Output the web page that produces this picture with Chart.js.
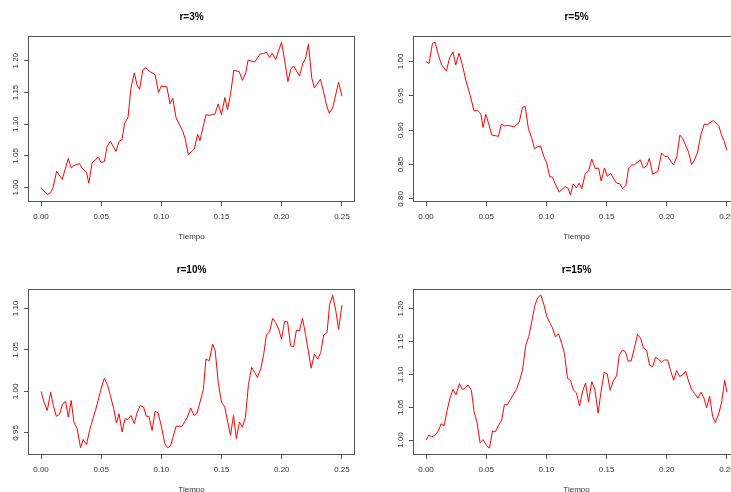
<!DOCTYPE html>
<html><head><meta charset="utf-8">
<script src="https://cdn.jsdelivr.net/npm/chart.js@4/dist/chart.umd.min.js"></script>
<style>
html,body{margin:0;padding:0;background:#fff;overflow:hidden;width:731px;height:492px;}
#wrap{position:relative;width:731px;height:492px;overflow:hidden;background:#fff;}
.p{position:absolute;width:385px;height:253px;}
.p canvas{display:block;}
</style></head><body>
<div id="wrap">
<div class="p" style="left:0;top:0"><canvas id="c1" width="385" height="253"></canvas></div>
<div class="p" style="left:385px;top:0"><canvas id="c2" width="385" height="253"></canvas></div>
<div class="p" style="left:0;top:253px"><canvas id="c3" width="385" height="253"></canvas></div>
<div class="p" style="left:385px;top:253px"><canvas id="c4" width="385" height="253"></canvas></div>
</div>
<script>
// ---- data ----
const titles = ['r=3%', 'r=5%', 'r=10%', 'r=15%'];
const xLabel = 'Tiempo';
const xTicks = [0, 0.05, 0.10, 0.15, 0.20, 0.25];
const yTicks3 = [1.00, 1.05, 1.10, 1.15, 1.20];
const yTicks5 = [0.80, 0.85, 0.90, 0.95, 1.00];
const yTicks10 = [0.95, 1.00, 1.05, 1.10];
const yTicks15 = [1.00, 1.05, 1.10, 1.15, 1.20];

const time3 = [
 0, 0.0052, 0.008, 0.0099, 0.013, 0.0176, 0.0226, 0.0251, 0.0273, 0.032,
 0.034, 0.0378, 0.0397, 0.0424, 0.0474, 0.0499, 0.0526, 0.0549, 0.0576, 0.0623,
 0.0648, 0.0673, 0.0695, 0.0722, 0.0747, 0.0775, 0.0797, 0.0819, 0.0846, 0.0871,
 0.0896, 0.0948, 0.0976, 0.0998, 0.1045, 0.1072, 0.1094, 0.1122, 0.1177, 0.1199,
 0.1224, 0.1273, 0.1301, 0.1320, 0.1370, 0.1397, 0.1444, 0.1472, 0.1499, 0.1527,
 0.1549, 0.1574, 0.1601, 0.1646, 0.1673, 0.1701, 0.1720, 0.1775, 0.1822, 0.1849,
 0.1871, 0.1899, 0.1921, 0.1949, 0.1998, 0.2023, 0.2051, 0.2073, 0.2098, 0.2147,
 0.2175, 0.2197, 0.2221, 0.2249, 0.2271, 0.2321, 0.2346, 0.2373, 0.2395, 0.2423,
 0.2472, 0.2500];
const value3 = [
 1.000, 0.989, 0.992, 1.000, 1.026, 1.013, 1.046, 1.031, 1.035, 1.038,
 1.031, 1.024, 1.007, 1.039, 1.048, 1.040, 1.041, 1.065, 1.073, 1.057,
 1.073, 1.076, 1.102, 1.110, 1.157, 1.181, 1.162, 1.155, 1.186, 1.189,
 1.184, 1.178, 1.150, 1.160, 1.159, 1.132, 1.141, 1.110, 1.089, 1.076,
 1.052, 1.061, 1.084, 1.074, 1.115, 1.114, 1.116, 1.132, 1.115, 1.142,
 1.123, 1.147, 1.185, 1.183, 1.169, 1.181, 1.201, 1.198, 1.211, 1.211,
 1.214, 1.205, 1.212, 1.202, 1.229, 1.202, 1.167, 1.186, 1.192, 1.176,
 1.196, 1.203, 1.226, 1.173, 1.157, 1.171, 1.152, 1.129, 1.117, 1.126,
 1.166, 1.144];

const time5 = [
 0, 0.0025, 0.0053, 0.0075, 0.0103, 0.0130, 0.0169, 0.0197, 0.0224, 0.0247,
 0.0274, 0.0302, 0.0330, 0.0366, 0.0399, 0.0427, 0.0455, 0.0474, 0.0496, 0.0518,
 0.0546, 0.0601, 0.0626, 0.0654, 0.0682, 0.0732, 0.0773, 0.0801, 0.0823, 0.0851,
 0.0879, 0.0901, 0.0926, 0.0951, 0.0978, 0.1003, 0.1028, 0.1050, 0.1078, 0.1106,
 0.1156, 0.1178, 0.1200, 0.1222, 0.1250, 0.1272, 0.1294, 0.1322, 0.1350, 0.1377,
 0.1405, 0.1433, 0.1455, 0.1483, 0.1505, 0.1533, 0.1583, 0.1611, 0.1633, 0.1661,
 0.1683, 0.1708, 0.1733, 0.1780, 0.1805, 0.1833, 0.1855, 0.1883, 0.1926, 0.1957,
 0.1982, 0.2007, 0.2043, 0.2059, 0.2084, 0.2109, 0.2131, 0.2159, 0.2181, 0.2206,
 0.2228, 0.2256, 0.2284, 0.2312, 0.2336, 0.2386, 0.2431, 0.2453, 0.2478, 0.2500];
const value5 = [
 1.000, 0.997, 1.026, 1.028, 1.009, 0.995, 0.986, 1.006, 1.014, 0.995,
 1.012, 0.995, 0.973, 0.951, 0.928, 0.929, 0.924, 0.904, 0.923, 0.911,
 0.893, 0.891, 0.909, 0.906, 0.907, 0.905, 0.911, 0.933, 0.935, 0.902,
 0.888, 0.873, 0.876, 0.877, 0.862, 0.852, 0.832, 0.832, 0.820, 0.810,
 0.818, 0.816, 0.806, 0.822, 0.816, 0.823, 0.815, 0.836, 0.841, 0.858,
 0.844, 0.845, 0.826, 0.845, 0.833, 0.837, 0.823, 0.822, 0.815, 0.820,
 0.845, 0.849, 0.850, 0.857, 0.845, 0.848, 0.859, 0.836, 0.840, 0.867,
 0.862, 0.862, 0.852, 0.850, 0.862, 0.893, 0.888, 0.877, 0.868, 0.850,
 0.856, 0.868, 0.894, 0.909, 0.908, 0.914, 0.907, 0.894, 0.883, 0.871];

const time10 = [
 0, 0.0025, 0.0052, 0.0080, 0.0102, 0.0127, 0.0152, 0.0179, 0.0204, 0.0226,
 0.0251, 0.0273, 0.0300, 0.0328, 0.0350, 0.0378, 0.0405, 0.0452, 0.0499, 0.0526,
 0.0554, 0.0576, 0.0604, 0.0626, 0.0648, 0.0673, 0.0697, 0.0722, 0.0747, 0.0775,
 0.0797, 0.0824, 0.0852, 0.0874, 0.0896, 0.0923, 0.0948, 0.0973, 0.1001, 0.1028,
 0.1053, 0.1078, 0.1122, 0.1171, 0.1216, 0.1243, 0.1271, 0.1295, 0.1348, 0.1370,
 0.1397, 0.1425, 0.1447, 0.1472, 0.1499, 0.1527, 0.1549, 0.1574, 0.1599, 0.1623,
 0.1648, 0.1673, 0.1698, 0.1723, 0.1750, 0.1775, 0.1797, 0.1825, 0.1850, 0.1872,
 0.1899, 0.1924, 0.1949, 0.1974, 0.1998, 0.2023, 0.2048, 0.2073, 0.2098, 0.2122,
 0.2147, 0.2172, 0.2197, 0.2244, 0.2271, 0.2299, 0.2324, 0.2348, 0.2376, 0.2398,
 0.2423, 0.2448, 0.2472, 0.2500];
const value10 = [
 1.000, 0.987, 0.977, 0.999, 0.983, 0.970, 0.972, 0.985, 0.988, 0.969,
 0.989, 0.963, 0.955, 0.932, 0.942, 0.936, 0.954, 0.977, 1.003, 1.016,
 1.007, 0.995, 0.979, 0.962, 0.973, 0.951, 0.967, 0.966, 0.971, 0.961,
 0.974, 0.983, 0.981, 0.970, 0.970, 0.953, 0.976, 0.974, 0.957, 0.937,
 0.932, 0.935, 0.958, 0.958, 0.969, 0.980, 0.971, 0.973, 1.002, 1.039,
 1.037, 1.057, 1.049, 1.011, 0.987, 0.981, 0.964, 0.947, 0.971, 0.943,
 0.963, 0.957, 0.969, 1.008, 1.029, 1.023, 1.017, 1.027, 1.045, 1.068,
 1.072, 1.088, 1.083, 1.075, 1.063, 1.084, 1.084, 1.055, 1.054, 1.074,
 1.073, 1.088, 1.069, 1.028, 1.045, 1.039, 1.047, 1.068, 1.071, 1.105,
 1.116, 1.098, 1.075, 1.104];

const time15 = [
 0, 0.0025, 0.0047, 0.0072, 0.0103, 0.0125, 0.0150, 0.0177, 0.0200, 0.0224,
 0.0249, 0.0277, 0.0302, 0.0324, 0.0349, 0.0377, 0.0399, 0.0424, 0.0449, 0.0474,
 0.0502, 0.0527, 0.0552, 0.0576, 0.0601, 0.0629, 0.0651, 0.0676, 0.0701, 0.0729,
 0.0751, 0.0776, 0.0801, 0.0829, 0.0854, 0.0879, 0.0904, 0.0929, 0.0953, 0.0978,
 0.1003, 0.1028, 0.1050, 0.1075, 0.1100, 0.1128, 0.1150, 0.1175, 0.1200, 0.1225,
 0.1250, 0.1275, 0.1303, 0.1325, 0.1350, 0.1377, 0.1402, 0.1430, 0.1452, 0.1480,
 0.1505, 0.1530, 0.1555, 0.1583, 0.1605, 0.1630, 0.1655, 0.1680, 0.1705, 0.1729,
 0.1757, 0.1782, 0.1807, 0.1832, 0.1857, 0.1882, 0.1907, 0.1932, 0.1957, 0.1982,
 0.2007, 0.2032, 0.2057, 0.2082, 0.2107, 0.2131, 0.2156, 0.2181, 0.2206, 0.2231,
 0.2259, 0.2284, 0.2309, 0.2331, 0.2356, 0.2381, 0.2403, 0.2431, 0.2456, 0.2481,
 0.2500];
const value15 = [
 1.000, 1.008, 1.005, 1.007, 1.014, 1.025, 1.022, 1.047, 1.065, 1.077,
 1.069, 1.086, 1.077, 1.079, 1.084, 1.076, 1.043, 1.027, 0.996, 1.001,
 0.992, 0.988, 1.014, 1.013, 1.022, 1.031, 1.054, 1.054, 1.062, 1.071,
 1.077, 1.090, 1.106, 1.145, 1.158, 1.181, 1.205, 1.217, 1.221, 1.207,
 1.188, 1.179, 1.171, 1.157, 1.162, 1.147, 1.132, 1.094, 1.091, 1.076,
 1.072, 1.052, 1.076, 1.087, 1.058, 1.089, 1.078, 1.041, 1.072, 1.103,
 1.101, 1.076, 1.090, 1.098, 1.129, 1.137, 1.135, 1.120, 1.121, 1.139,
 1.161, 1.155, 1.140, 1.137, 1.114, 1.112, 1.126, 1.123, 1.119, 1.122,
 1.122, 1.106, 1.091, 1.106, 1.097, 1.099, 1.105, 1.090, 1.077, 1.071,
 1.064, 1.073, 1.064, 1.049, 1.067, 1.036, 1.027, 1.040, 1.058, 1.091,
 1.073];

// axis extents (R adds 4% around data)
const xRange = [-0.01, 0.26];
const yRange3 = [0.979, 1.239];
const yRange5 = [0.797, 1.037];
const yRange10 = [0.9245, 1.1235];
const yRange15 = [0.979, 1.230];

// ---- rendering ----
const FONT = "'Liberation Sans', Arial, sans-serif";
const AXIS = '#555';
const TXT = '#333';

const boxPlugin = {
  id: 'rbox',
  afterDraw(chart) {
    const {ctx, chartArea: a} = chart;
    ctx.save();
    ctx.strokeStyle = AXIS;
    ctx.lineWidth = 1;
    ctx.strokeRect(Math.round(a.left) - 0.5, Math.round(a.top) + 0.5,
                   Math.round(a.right - a.left) + 1, Math.round(a.bottom - a.top));
    ctx.restore();
  }
};

function makeChart(id, title, t, v, yRange, yTicks) {
  const pts = t.map((x, i) => ({x: x, y: v[i]}));
  return new Chart(document.getElementById(id), {
    type: 'scatter',
    data: {datasets: [{data: pts, showLine: true, borderColor: '#ff0000', borderWidth: 1,
                       pointRadius: 0, pointHoverRadius: 0, fill: false, tension: 0}]},
    options: {
      responsive: false, animation: false, devicePixelRatio: 1,
      events: [],
      layout: {padding: {left: 0, right: 31, top: 0, bottom: 0}},
      plugins: {
        legend: {display: false},
        tooltip: {enabled: false},
        title: {display: true, text: title, fullSize: false, color: '#000',
                font: {family: FONT, size: 10, weight: 'bold', lineHeight: 1.2},
                padding: {top: 11, bottom: 13}}
      },
      scales: {
        x: {
          type: 'linear', min: xRange[0], max: xRange[1],
          afterBuildTicks: s => { s.ticks = xTicks.map(value => ({value})); },
          afterFit: s => { s.height = 52; },
          grid: {drawOnChartArea: false, drawTicks: true, tickLength: 5, color: AXIS, lineWidth: 1},
          border: {display: false},
          ticks: {padding: 6, color: TXT, autoSkip: false, maxRotation: 0, minRotation: 0,
                  font: {family: FONT, size: 8},
                  callback: val => Number(val).toFixed(2)},
          title: {display: true, text: xLabel, color: TXT, font: {family: FONT, size: 8, lineHeight: 1.2},
                  padding: {top: 0, bottom: 11}}
        },
        y: {
          type: 'linear', min: yRange[0], max: yRange[1],
          afterBuildTicks: s => { s.ticks = yTicks.map(value => ({value})); },
          afterFit: s => { s.width = 29; },
          grid: {drawOnChartArea: false, drawTicks: true, tickLength: 5, color: AXIS, lineWidth: 1},
          border: {display: false},
          ticks: {padding: 0, color: TXT, autoSkip: false, minRotation: 90, maxRotation: 90,
                  crossAlign: 'center', font: {family: FONT, size: 8},
                  callback: val => Number(val).toFixed(2)}
        }
      }
    },
    plugins: [boxPlugin]
  });
}

makeChart('c1', titles[0], time3, value3, yRange3, yTicks3);
makeChart('c2', titles[1], time5, value5, yRange5, yTicks5);
makeChart('c3', titles[2], time10, value10, yRange10, yTicks10);
makeChart('c4', titles[3], time15, value15, yRange15, yTicks15);
</script>
</body></html>
